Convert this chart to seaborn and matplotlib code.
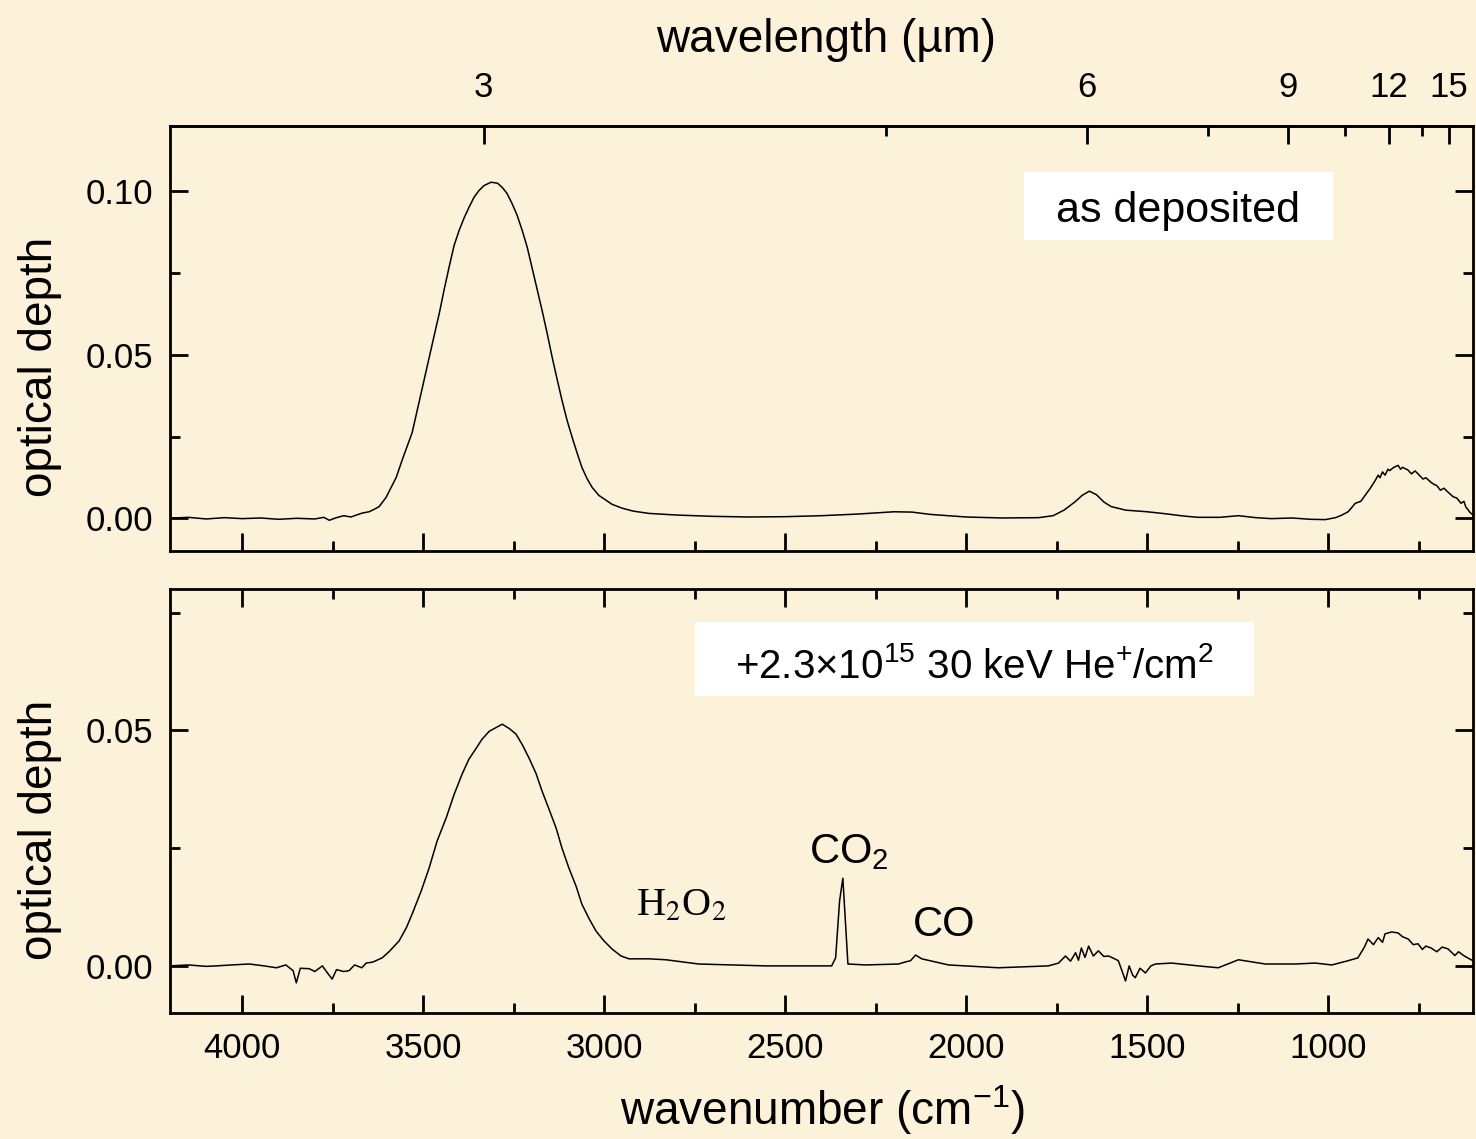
import matplotlib
matplotlib.use("Agg")
import matplotlib.pyplot as plt
import seaborn as sns
from matplotlib.patches import Rectangle
from matplotlib.ticker import FixedLocator, FormatStrFormatter, MultipleLocator

# spectrum "as deposited" (wavenumber in cm-1, optical depth)
deposited_wn = [
    4200, 4150, 4100, 4050, 4000, 3950, 3900, 3850, 3800, 3775, 3760, 3740,
    3720, 3700, 3685, 3669, 3650, 3635, 3622, 3603, 3575, 3558, 3531, 3512,
    3484, 3465, 3456, 3443, 3429, 3415, 3401, 3387, 3374, 3360, 3346, 3332,
    3313, 3295, 3282, 3269, 3255, 3241, 3227, 3213, 3200, 3186, 3172, 3158,
    3144, 3131, 3117, 3103, 3089, 3075, 3062, 3048, 3034, 3015, 2995, 2979,
    2951, 2920, 2877, 2800, 2700, 2600, 2500, 2400,
    2300, 2200, 2150, 2100, 2000, 1900, 1800, 1760, 1730, 1700, 1680, 1660,
    1640, 1620, 1600, 1560, 1500, 1450, 1400, 1359, 1300, 1248, 1200, 1157,
    1100, 1050, 1008, 980, 964, 945, 925, 910, 898, 885, 870, 862, 857, 850,
    843, 835, 830, 820, 807, 800, 795, 780, 770, 760, 745, 738, 730, 716,
    708, 700, 690, 680, 669, 655, 645, 633, 625, 620, 608, 600,
]
deposited_od = [
    0.0000, 0.0003, -0.0002, 0.0002, -0.0001, 0.0001, -0.0003, 0.0000,
    -0.0002, 0.0003, -0.0006, 0.0002, 0.0008, 0.0004, 0.0010, 0.0016,
    0.0020, 0.0028, 0.0036, 0.0064, 0.0125, 0.0180, 0.0262, 0.0355,
    0.0492, 0.0584, 0.0627, 0.0697, 0.0768, 0.0835, 0.0881, 0.0920,
    0.0951, 0.0982, 0.1003, 0.1018, 0.1028, 0.1025, 0.1012, 0.0994,
    0.0963, 0.0927, 0.0881, 0.0829, 0.0768, 0.0703, 0.0636, 0.0566,
    0.0492, 0.0428, 0.0361, 0.0300, 0.0248, 0.0199, 0.0156, 0.0122,
    0.0095, 0.0070, 0.0055, 0.0043, 0.0031, 0.0022, 0.0015, 0.0010,
    0.0006, 0.0004, 0.0005, 0.0008,
    0.0013, 0.0020, 0.0019, 0.0012, 0.0004, 0.0001, 0.0002, 0.0008,
    0.0025, 0.0050, 0.0070, 0.0083, 0.0072, 0.0050, 0.0036, 0.0025,
    0.0020, 0.0014, 0.0007, 0.0003, 0.0003, 0.0008, 0.0002, -0.0001,
    0.0001, -0.0003, -0.0004, 0.0002, 0.0009, 0.0020, 0.0046, 0.0052,
    0.0070, 0.0090, 0.0116, 0.0132, 0.0124, 0.0142, 0.0132, 0.0150,
    0.0146, 0.0155, 0.0162, 0.0150, 0.0156, 0.0148, 0.0136, 0.0145,
    0.0128, 0.0120, 0.0124, 0.0110, 0.0104, 0.0100, 0.0086, 0.0092,
    0.0080, 0.0066, 0.0062, 0.0046, 0.0052, 0.0035, 0.0018, 0.0010,
]

# spectrum after irradiation
irradiated_wn = [
    4200, 4150, 4100, 4072, 4030, 3981, 3940, 3906, 3880, 3860, 3851, 3840,
    3815, 3800, 3779, 3765, 3752, 3740, 3720, 3705, 3690, 3670, 3658, 3640,
    3614, 3595, 3567, 3547, 3531, 3506, 3484, 3462, 3437, 3415, 3393, 3374,
    3354, 3338, 3318, 3299, 3282, 3263, 3244, 3227, 3208, 3189, 3172, 3153,
    3133, 3117, 3098, 3078, 3062, 3042, 3023, 3001, 2979, 2954, 2932, 2877,
    2830, 2739, 2650, 2554, 2450, 2372, 2361, 2350, 2341, 2333, 2327, 2278,
    2187, 2170, 2154, 2140, 2123, 2049, 1911, 1773, 1745, 1726, 1712, 1698,
    1690, 1682, 1672, 1662, 1649, 1635, 1620, 1607, 1590, 1580, 1570, 1560,
    1550, 1540, 1533, 1520, 1505, 1490, 1477, 1433, 1359, 1304, 1248, 1174,
    1091, 1036, 990, 945, 918, 900, 890, 875, 862, 850, 843, 825, 807, 795,
    779, 765, 752, 740, 730, 716, 700, 685, 669, 650, 640, 624, 610, 600,
]
irradiated_od = [
    0.0000, 0.0002, -0.0001, 0.0000, 0.0002, 0.0004, 0.0000, -0.0004,
    0.0002, -0.0010, -0.0036, -0.0005, -0.0006, -0.0012, 0.0000, -0.0015,
    -0.0028, -0.0008, -0.0012, -0.0010, 0.0002, -0.0004, 0.0006, 0.0008,
    0.0017, 0.0030, 0.0053, 0.0081, 0.0110, 0.0159, 0.0208, 0.0265,
    0.0314, 0.0364, 0.0407, 0.0439, 0.0462, 0.0481, 0.0498, 0.0506,
    0.0513, 0.0504, 0.0492, 0.0470, 0.0441, 0.0409, 0.0371, 0.0333,
    0.0292, 0.0250, 0.0208, 0.0169, 0.0131, 0.0100, 0.0074, 0.0053,
    0.0036, 0.0021, 0.0015, 0.0015,
    0.0013, 0.0004, 0.0002, 0.0000, 0.0000, 0.0000, 0.0017, 0.0138,
    0.0186, 0.0081, 0.0004, 0.0002,
    0.0004, 0.0008, 0.0011, 0.0023, 0.0015, 0.0002, -0.0004, 0.0000,
    0.0006, 0.0021, 0.0010, 0.0028,
    0.0012, 0.0038, 0.0018, 0.0042, 0.0021, 0.0032, 0.0020, 0.0021,
    0.0015, 0.0011, -0.0010, -0.0032,
    0.0000, -0.0020, -0.0025, -0.0005, -0.0015, 0.0000, 0.0004, 0.0006,
    0.0000, -0.0004, 0.0013, 0.0004,
    0.0004, 0.0006, 0.0002, 0.0011, 0.0017, 0.0040, 0.0057, 0.0045,
    0.0060, 0.0050, 0.0068, 0.0072, 0.0070, 0.0062,
    0.0057, 0.0045, 0.0047, 0.0035, 0.0042, 0.0038, 0.0030, 0.0040,
    0.0036, 0.0022, 0.0030, 0.0021, 0.0015, 0.0011,
]

wavelength_ticks = [3, 6, 9, 12, 15]
wavelength_minor = [4.5, 7.5, 10.5, 13.5]

bg = "#FCF1D9"

sns.set_theme(style="ticks")
plt.rcParams["font.family"] = ["Liberation Sans", "DejaVu Sans"]
plt.rcParams["mathtext.fontset"] = "custom"
plt.rcParams["mathtext.rm"] = "Liberation Sans"
plt.rcParams["mathtext.it"] = "Liberation Sans:italic"
plt.rcParams["mathtext.bf"] = "Liberation Sans:bold"
plt.rcParams["text.color"] = "black"
plt.rcParams["axes.labelcolor"] = "black"
plt.rcParams["xtick.color"] = "black"
plt.rcParams["ytick.color"] = "black"

fig = plt.figure(figsize=(14.76, 11.39), dpi=100, facecolor=bg)
ax_top = fig.add_axes([170 / 1476, 1 - 551 / 1139, 1303 / 1476, 425 / 1139])
ax_bot = fig.add_axes([170 / 1476, 1 - 1013 / 1139, 1303 / 1476, 424 / 1139])

sns.lineplot(x=deposited_wn, y=deposited_od, ax=ax_top, color="black",
             linewidth=1.1, sort=False, estimator=None)
sns.lineplot(x=irradiated_wn, y=irradiated_od, ax=ax_bot, color="black",
             linewidth=1.1, sort=False, estimator=None)

tick_size = 25
for ax in (ax_top, ax_bot):
    ax.set_facecolor(bg)
    ax.set_xlim(4200, 600)
    ax.xaxis.set_major_locator(MultipleLocator(500))
    ax.xaxis.set_minor_locator(MultipleLocator(250))
    ax.yaxis.set_major_locator(MultipleLocator(0.05))
    ax.yaxis.set_minor_locator(MultipleLocator(0.025))
    ax.yaxis.set_major_formatter(FormatStrFormatter("%.2f"))
    for sp in ax.spines.values():
        sp.set_linewidth(2)
        sp.set_color("black")
    ax.tick_params(which="both", direction="in", width=2, colors="black",
                   left=True, right=True, bottom=True, labelsize=tick_size)
    ax.tick_params(which="major", length=13)
    ax.tick_params(which="minor", length=7)
    ax.tick_params(axis="y", pad=12)
    ax.tick_params(axis="x", pad=14)
    ax.set_xlabel("")
    ax.set_ylabel("")

ax_top.set_ylim(-0.01, 0.12)
ax_bot.set_ylim(-0.01, 0.08)
ax_top.tick_params(axis="x", which="both", top=False, labelbottom=False)
ax_bot.tick_params(axis="x", which="both", top=True)

# wavelength axis on top
sec = ax_top.secondary_xaxis("top", functions=(lambda x: 1e4 / x, lambda x: 1e4 / x))
sec.set_xticks(wavelength_ticks)
sec.set_xticklabels([str(t) for t in wavelength_ticks])
sec.xaxis.set_minor_locator(FixedLocator(wavelength_minor))
sec.tick_params(which="both", direction="in", width=2, colors="black",
                labelsize=tick_size, pad=16)
sec.tick_params(which="major", length=13)
sec.tick_params(which="minor", length=7)
sec.spines["top"].set_linewidth(2)

# label boxes
ax_top.add_patch(Rectangle((0.6554, 0.7318), 0.2371, 0.16, transform=ax_top.transAxes,
                           facecolor="white", edgecolor="none", zorder=3))
ax_top.text(0.7736, 0.775, "as deposited", transform=ax_top.transAxes,
            ha="center", va="baseline", fontsize=31, zorder=4)
ax_bot.add_patch(Rectangle((0.4029, 0.7476), 0.429, 0.1745, transform=ax_bot.transAxes,
                           facecolor="white", edgecolor="none", zorder=3))
ax_bot.text(0.6178, 0.79, r"+2.3×10$^{15}$ 30 keV He$^{+}$/cm$^{2}$",
            transform=ax_bot.transAxes, ha="center", va="baseline",
            fontsize=29, zorder=4)

# band labels
ax_bot.text(2325, 0.0218, r"CO$_2$", ha="center", va="baseline", fontsize=30)
ax_bot.text(2060, 0.0064, "CO", ha="center", va="baseline", fontsize=30)
ax_bot.text(2788, 0.0106, r"H$_2$O$_2$", ha="center", va="baseline", fontsize=29,
            family="Liberation Serif", math_fontfamily="stix")

# axis titles
fig.text(826 / 1476, 1 - 52 / 1139, "wavelength (µm)", ha="center", va="baseline",
         fontsize=33)
fig.text(822 / 1476, 1 - 1125 / 1139, r"wavenumber (cm$^{-1}$)", ha="center",
         va="baseline", fontsize=33)
fig.text(40 / 1476, 1 - 367 / 1139, "optical depth", rotation=90, ha="center",
         va="center", fontsize=33)
fig.text(40 / 1476, 1 - 830 / 1139, "optical depth", rotation=90, ha="center",
         va="center", fontsize=33)

fig.savefig("out.png", dpi=100, facecolor=bg)
